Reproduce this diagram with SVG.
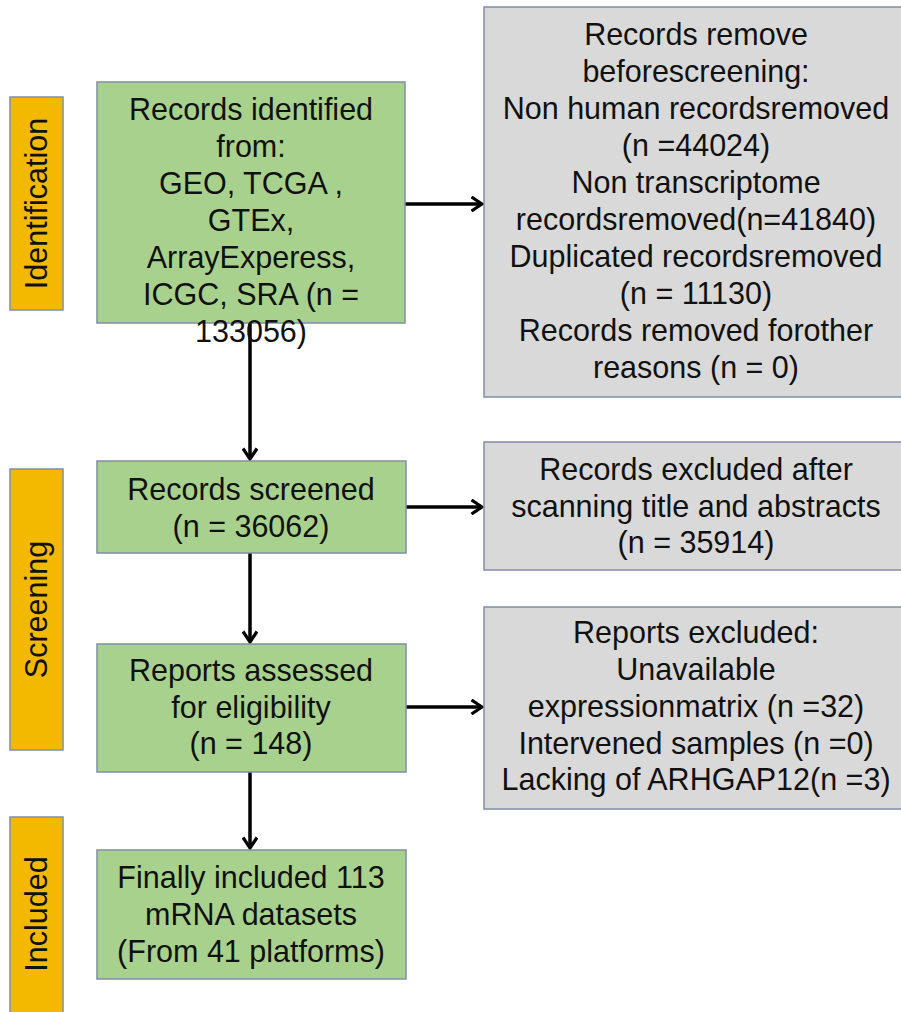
<svg xmlns="http://www.w3.org/2000/svg" width="901" height="1012" viewBox="0 0 901 1012">
<defs>
<style>
.t{font-family:"Liberation Sans",Arial,sans-serif;font-size:30.5px;fill:#111;text-anchor:middle}
.lab{fill:#F2B900;stroke:#7F8FA6;stroke-width:1.5}
.g{fill:#A9D18E;stroke:#7F8FA6;stroke-width:1.5}
.gr{fill:#D9D9D9;stroke:#7F8FA6;stroke-width:1.5}
.c{stroke:#000;stroke-width:3.5;fill:none;marker-end:url(#ah)}
</style>
<marker id="ah" viewBox="0 0 14 16" refX="12" refY="8" markerWidth="14" markerHeight="16" markerUnits="userSpaceOnUse" orient="auto">
<path d="M1.5,1 L12,8 L1.5,15" fill="none" stroke="#000" stroke-width="3.2"/>
</marker>
</defs>
<rect width="901" height="1012" fill="#fff"/>
<g id="lab-identification"><rect class="lab" x="10" y="97" width="53" height="213"/><text class="t" transform="translate(47,203.5) rotate(-90)">Identification</text></g>
<g id="lab-screening"><rect class="lab" x="10" y="469" width="53" height="281"/><text class="t" transform="translate(47,609.5) rotate(-90)">Screening</text></g>
<g id="lab-included"><rect class="lab" x="10" y="817" width="53" height="210"/><text class="t" transform="translate(47,914) rotate(-90)">Included</text></g>
<g id="connectors">
<line class="c" x1="405" y1="204" x2="482" y2="204"/>
<line class="c" x1="250" y1="323" x2="250" y2="459"/>
<line class="c" x1="406" y1="507" x2="482" y2="507"/>
<line class="c" x1="250" y1="553" x2="250" y2="642"/>
<line class="c" x1="406" y1="707" x2="482" y2="707"/>
<line class="c" x1="250" y1="772" x2="250" y2="848"/>
</g>
<g id="n-identified"><rect class="g" x="97" y="82" width="308" height="241"/>
<text class="t" x="251" y="120">Records identified</text>
<text class="t" x="251" y="157">from:</text>
<text class="t" x="251" y="194">GEO, TCGA ,</text>
<text class="t" x="251" y="231">GTEx,</text>
<text class="t" x="251" y="268">ArrayExperess,</text>
<text class="t" x="251" y="305">ICGC, SRA (n =</text>
<text class="t" x="251" y="342">133056)</text>
</g>
<g id="n-removed"><rect class="gr" x="484" y="7" width="430" height="390"/>
<text class="t" x="696" y="44.5">Records remove</text>
<text class="t" x="696" y="81.6">beforescreening:</text>
<text class="t" x="696" y="118.7">Non human recordsremoved</text>
<text class="t" x="696" y="155.8">(n =44024)</text>
<text class="t" x="696" y="192.9">Non transcriptome</text>
<text class="t" x="696" y="230">recordsremoved(n=41840)</text>
<text class="t" x="696" y="267">Duplicated recordsremoved</text>
<text class="t" x="696" y="304">(n = 11130)</text>
<text class="t" x="696" y="341">Records removed forother</text>
<text class="t" x="696" y="378">reasons (n = 0)</text>
</g>
<g id="n-screened"><rect class="g" x="97" y="461" width="309" height="92"/>
<text class="t" x="251" y="500">Records screened</text>
<text class="t" x="251" y="537">(n = 36062)</text>
</g>
<g id="n-excluded1"><rect class="gr" x="484" y="442" width="430" height="128"/>
<text class="t" x="696" y="480">Records excluded after</text>
<text class="t" x="696" y="517">scanning title and abstracts</text>
<text class="t" x="696" y="553">(n = 35914)</text>
</g>
<g id="n-assessed"><rect class="g" x="97" y="644" width="309" height="128"/>
<text class="t" x="251" y="681">Reports assessed</text>
<text class="t" x="251" y="718">for eligibility</text>
<text class="t" x="251" y="754">(n = 148)</text>
</g>
<g id="n-excluded2"><rect class="gr" x="484" y="607" width="430" height="202"/>
<text class="t" x="696" y="643">Reports excluded:</text>
<text class="t" x="696" y="680">Unavailable</text>
<text class="t" x="696" y="717">expressionmatrix (n =32)</text>
<text class="t" x="696" y="754">Intervened samples (n =0)</text>
<text class="t" x="696" y="790">Lacking of ARHGAP12(n =3)</text>
</g>
<g id="n-included"><rect class="g" x="97" y="850" width="309" height="129"/>
<text class="t" x="251" y="888">Finally included 113</text>
<text class="t" x="251" y="925">mRNA datasets</text>
<text class="t" x="251" y="962">(From 41 platforms)</text>
</g>
</svg>
